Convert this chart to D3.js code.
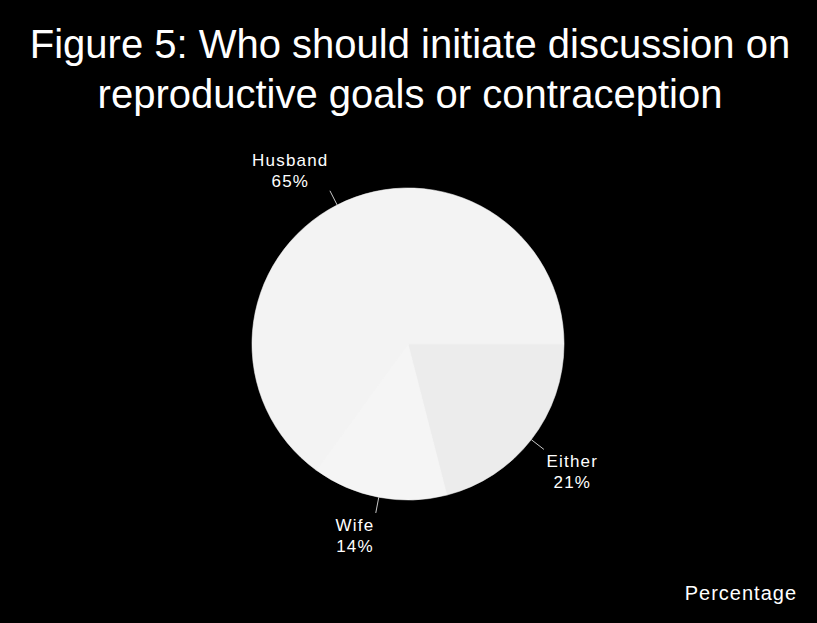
<!DOCTYPE html>
<html>
<head>
<meta charset="utf-8">
<script src="https://cdn.jsdelivr.net/npm/d3@7"></script>
<style>
  html, body { margin: 0; padding: 0; background: #000; }
  svg { display: block; }
  text { font-family: "Liberation Sans", Arial, Helvetica, sans-serif; fill: #fff; }
</style>
</head>
<body>
<svg id="chart" width="817" height="623"></svg>
<script>
// Who should initiate discussion on reproductive goals or contraception (percent)
const categories = ["Either", "Wife", "Husband"];
const values = [21, 14, 65];
const sliceColors = ["#ececec", "#f5f5f5", "#f3f3f3"];
const titleLines = ["Figure 5: Who should initiate discussion on", "reproductive goals or contraception"];
const footnote = "Percentage";

const W = 817, H = 623;
const cx = 408, cy = 344, radius = 156;

const svg = d3.select("#chart");
svg.append("rect").attr("width", W).attr("height", H).attr("fill", "#000");

// Title
svg.append("g").selectAll("text")
  .data(titleLines)
  .join("text")
  .attr("x", 410)
  .attr("y", (d, i) => 58 + i * 50)
  .attr("text-anchor", "middle")
  .attr("font-size", 40)
  .text(d => d);

const data = categories.map((c, i) => ({ name: c, value: values[i], color: sliceColors[i] }));

// Slices start at 3 o'clock and run clockwise in the given order
const pie = d3.pie().value(d => d.value).sort(null)
  .startAngle(Math.PI / 2).endAngle(Math.PI / 2 + 2 * Math.PI);
const arcs = pie(data);

const arc = d3.arc().innerRadius(0).outerRadius(radius);
const edgeArc = d3.arc().innerRadius(radius).outerRadius(radius);
const tipArc = d3.arc().innerRadius(radius + 16).outerRadius(radius + 16);

const g = svg.append("g").attr("transform", `translate(${cx},${cy})`);

// light disc underneath so slice seams don't show the black background
g.append("circle").attr("r", radius - 0.5).attr("fill", "#f3f3f3");

g.selectAll("path.slice")
  .data(arcs)
  .join("path")
  .attr("class", "slice")
  .attr("d", arc)
  .attr("fill", d => d.data.color)
  .attr("stroke", d => d.data.color)
  .attr("stroke-width", 0.6);

// Leader lines
g.selectAll("line.leader")
  .data(arcs)
  .join("line")
  .attr("class", "leader")
  .attr("x1", d => edgeArc.centroid(d)[0])
  .attr("y1", d => edgeArc.centroid(d)[1])
  .attr("x2", d => tipArc.centroid(d)[0])
  .attr("y2", d => tipArc.centroid(d)[1])
  .attr("stroke", "#c8c8c8")
  .attr("stroke-width", 1);

// Labels: two centred lines, block placed off the end of each leader line
const lineGap = 21;
const labels = g.selectAll("g.label")
  .data(arcs)
  .join("g")
  .attr("class", "label");

labels.each(function (d) {
  const sel = d3.select(this);
  const lines = [d.data.name, d.data.value + "%"];
  const texts = sel.selectAll("text")
    .data(lines)
    .join("text")
    .attr("font-size", 17)
    .attr("letter-spacing", 1.2)
    .attr("text-anchor", "middle")
    .text(t => t);
  let w = 0;
  texts.each(function () { w = Math.max(w, this.getComputedTextLength()); });
  const [tx, ty] = tipArc.centroid(d);
  const centerX = tx < 0 ? tx - 2 - w / 2 : tx + 2 + w / 2;
  const firstBase = ty < 0 ? ty - 4 - lineGap : ty + 18;
  texts.attr("x", centerX + 0.6).attr("y", (t, i) => firstBase + i * lineGap);
});

// Footnote
svg.append("text")
  .attr("x", 797)
  .attr("y", 600)
  .attr("text-anchor", "end")
  .attr("font-size", 20)
  .attr("letter-spacing", 1)
  .text(footnote);
</script>
</body>
</html>
